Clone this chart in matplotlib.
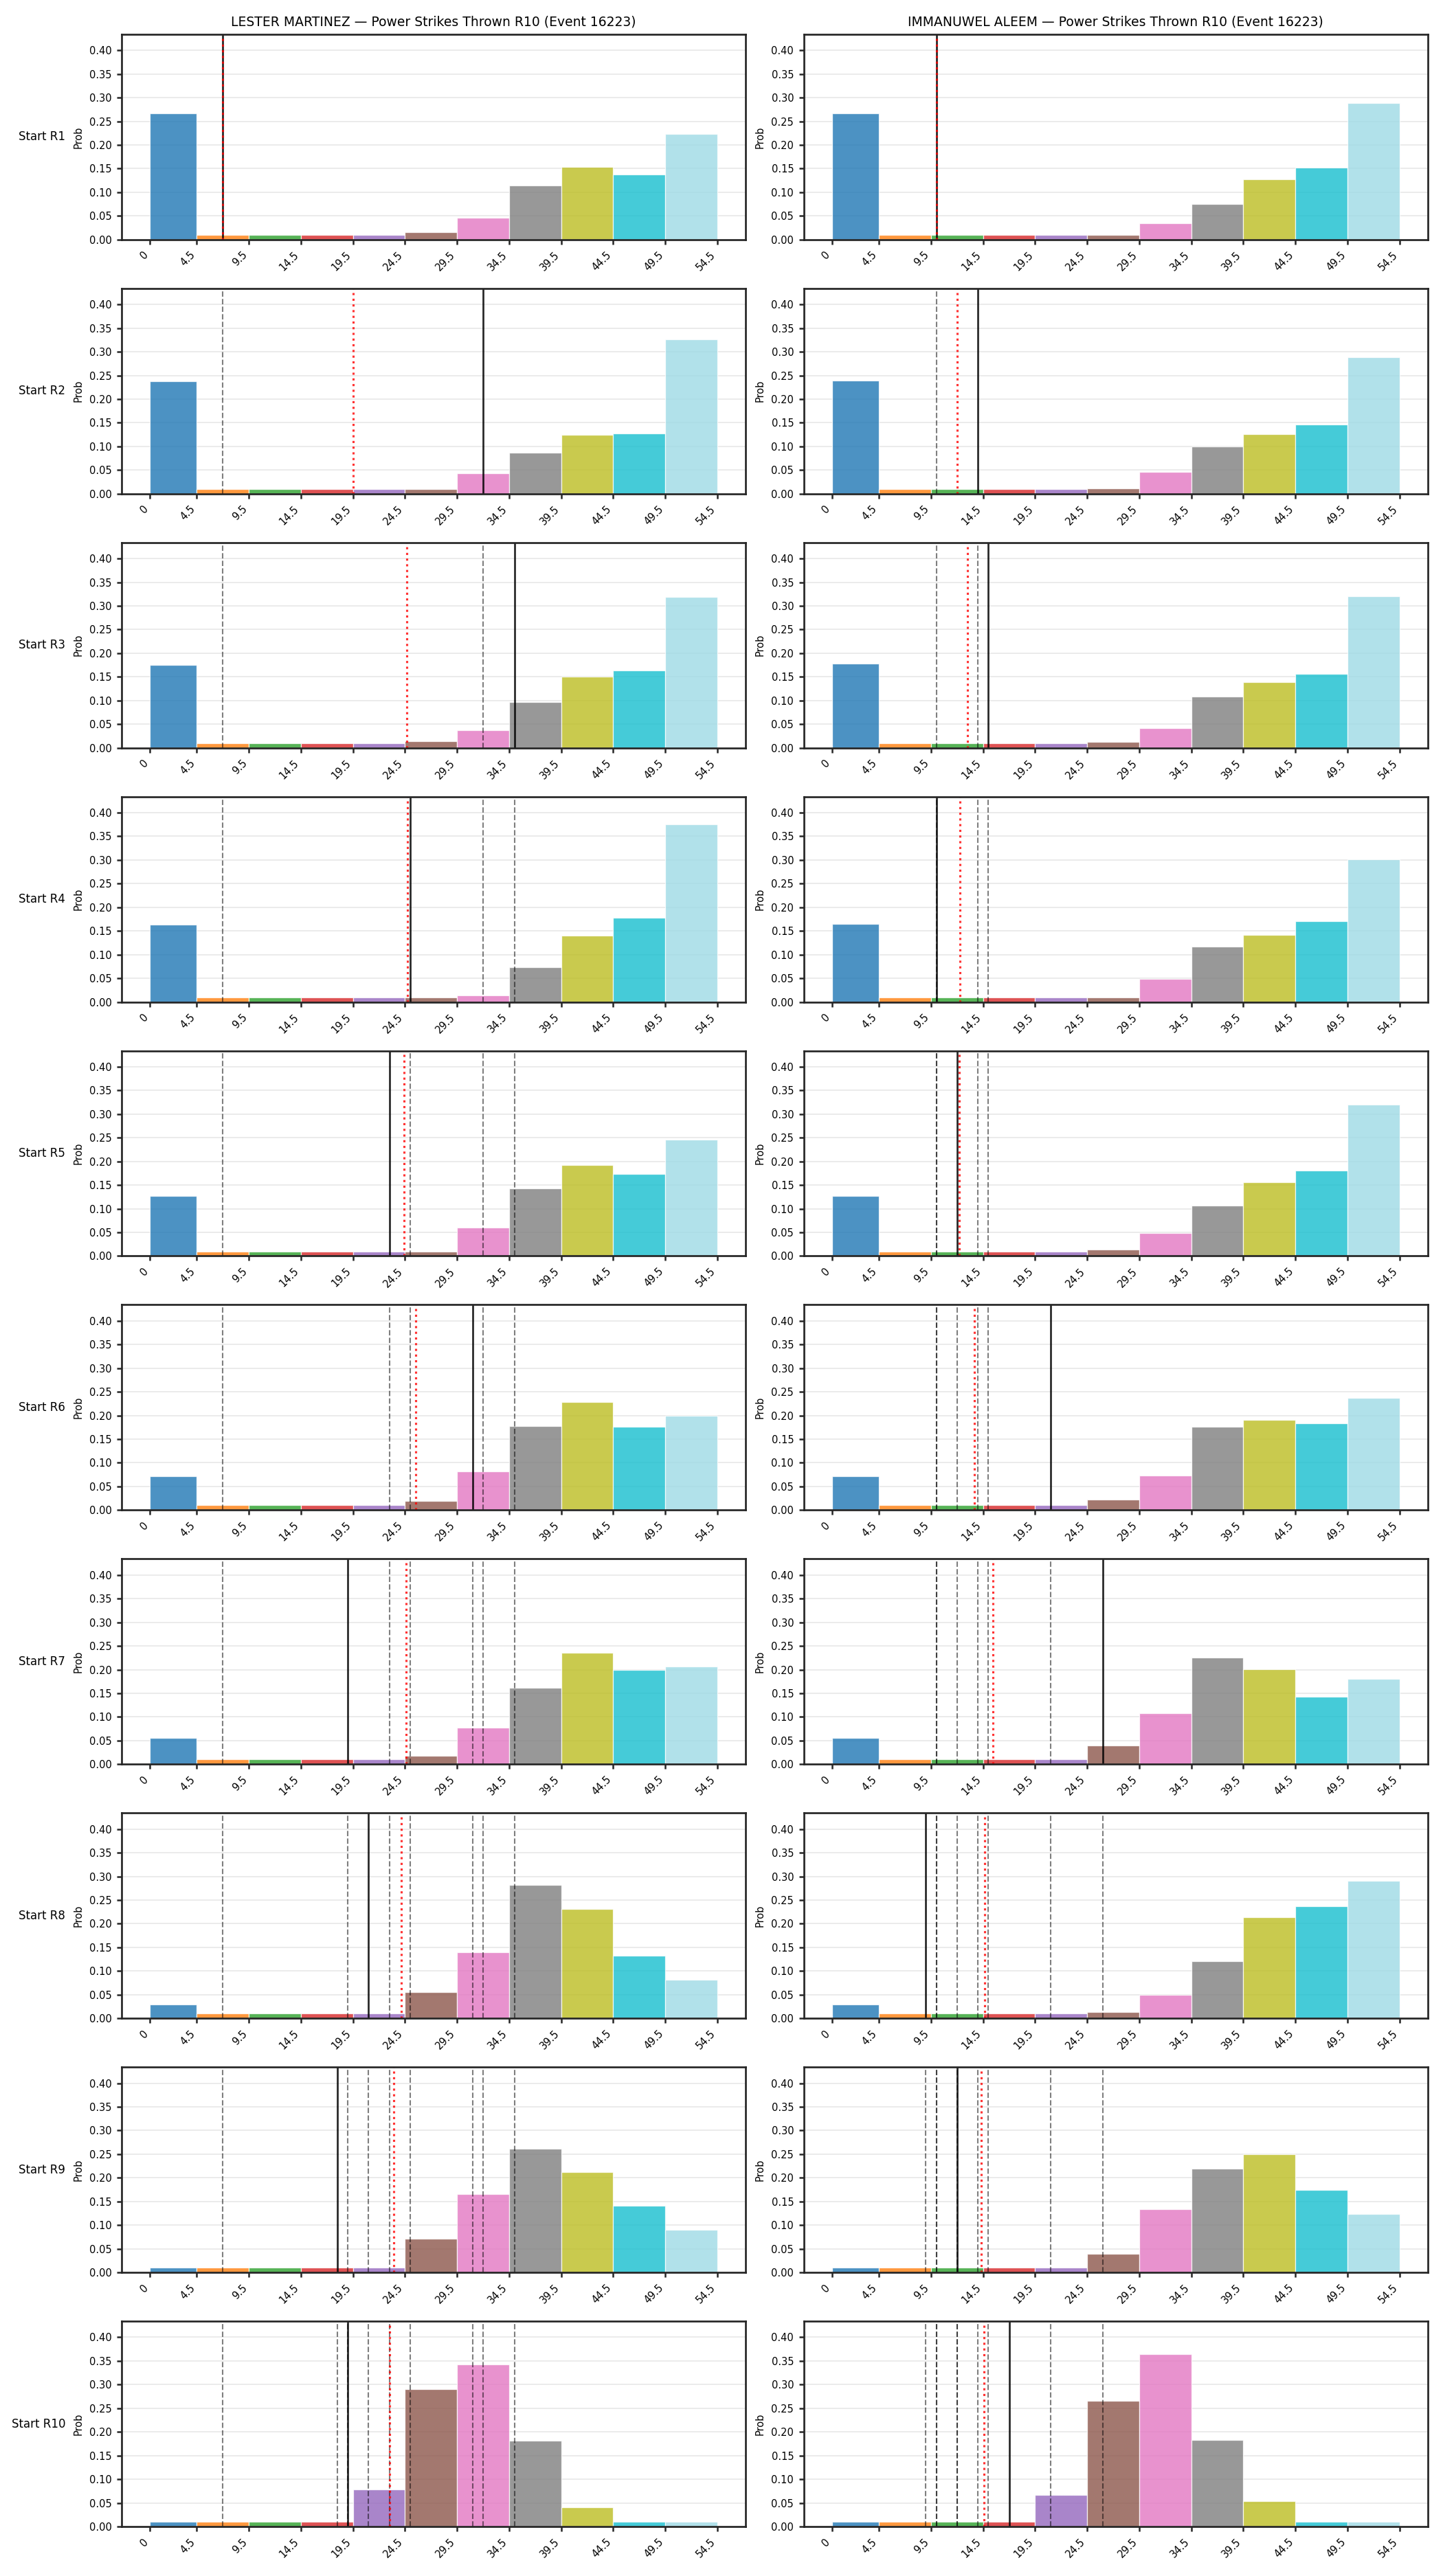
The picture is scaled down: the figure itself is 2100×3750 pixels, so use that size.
import numpy as np
import matplotlib
matplotlib.use("Agg")
import matplotlib.pyplot as plt

# bins of power strikes thrown in R10
edges = [0, 4.5, 9.5, 14.5, 19.5, 24.5, 29.5, 34.5, 39.5, 44.5, 49.5, 54.5]
tick_labels = ["0", "4.5", "9.5", "14.5", "19.5", "24.5", "29.5", "34.5", "39.5", "44.5", "49.5", "54.5"]
bin_colors = ["#1f77b4", "#ff7f0e", "#2ca02c", "#d62728", "#9467bd", "#8c564b",
              "#e377c2", "#7f7f7f", "#bcbd22", "#17becf", "#9edae5"]

fighters = ["LESTER MARTINEZ", "IMMANUWEL ALEEM"]
event_id = 16223

# observed power strikes per round (R1..R10)
left_rounds = [7, 32, 35, 25, 23, 31, 19, 21, 18, 19]
right_rounds = [10, 14, 15, 10, 12, 21, 26, 9, 12, 17]

# predicted distribution at start of each round
left_probs = [
    [0.267, 0.010, 0.010, 0.010, 0.010, 0.015, 0.046, 0.115, 0.153, 0.137, 0.223],
    [0.237, 0.010, 0.010, 0.010, 0.010, 0.010, 0.043, 0.087, 0.124, 0.128, 0.326],
    [0.175, 0.010, 0.010, 0.010, 0.010, 0.014, 0.037, 0.096, 0.150, 0.163, 0.319],
    [0.163, 0.010, 0.010, 0.010, 0.010, 0.010, 0.014, 0.073, 0.140, 0.178, 0.376],
    [0.127, 0.010, 0.010, 0.010, 0.010, 0.010, 0.060, 0.143, 0.193, 0.174, 0.246],
    [0.071, 0.010, 0.010, 0.010, 0.010, 0.020, 0.082, 0.178, 0.228, 0.176, 0.200],
    [0.056, 0.010, 0.010, 0.010, 0.010, 0.018, 0.078, 0.162, 0.235, 0.200, 0.206],
    [0.030, 0.010, 0.010, 0.010, 0.010, 0.056, 0.140, 0.282, 0.231, 0.133, 0.081],
    [0.010, 0.010, 0.010, 0.010, 0.011, 0.071, 0.166, 0.262, 0.212, 0.141, 0.090],
    [0.010, 0.010, 0.010, 0.010, 0.079, 0.291, 0.343, 0.181, 0.041, 0.010, 0.010],
]
right_probs = [
    [0.267, 0.010, 0.010, 0.010, 0.010, 0.010, 0.034, 0.075, 0.128, 0.152, 0.289],
    [0.239, 0.010, 0.010, 0.010, 0.010, 0.011, 0.046, 0.100, 0.126, 0.146, 0.289],
    [0.178, 0.010, 0.010, 0.010, 0.010, 0.013, 0.041, 0.108, 0.139, 0.156, 0.320],
    [0.165, 0.010, 0.010, 0.010, 0.010, 0.010, 0.049, 0.117, 0.141, 0.170, 0.302],
    [0.127, 0.010, 0.010, 0.010, 0.010, 0.014, 0.049, 0.106, 0.156, 0.180, 0.320],
    [0.071, 0.010, 0.010, 0.010, 0.010, 0.022, 0.073, 0.176, 0.191, 0.183, 0.237],
    [0.056, 0.010, 0.010, 0.010, 0.010, 0.039, 0.108, 0.226, 0.201, 0.143, 0.180],
    [0.029, 0.010, 0.010, 0.010, 0.010, 0.014, 0.049, 0.121, 0.213, 0.237, 0.291],
    [0.010, 0.010, 0.010, 0.010, 0.010, 0.040, 0.134, 0.220, 0.250, 0.174, 0.124],
    [0.010, 0.010, 0.010, 0.010, 0.067, 0.266, 0.364, 0.183, 0.054, 0.010, 0.010],
]

plt.rcParams["axes.linewidth"] = 1.3
plt.rcParams["axes.edgecolor"] = "#262626"
plt.rcParams["xtick.major.width"] = 1.2
plt.rcParams["ytick.major.width"] = 1.2
plt.rcParams["xtick.color"] = "#262626"
plt.rcParams["ytick.color"] = "#262626"


def draw_panel(ax, probs, rounds, r):
    lefts = edges[:-1]
    widths = np.diff(edges)
    ax.bar(lefts, probs, width=widths, align="edge", color=bin_colors,
           alpha=0.8, edgecolor="white", linewidth=0.6)
    # earlier rounds
    for v in rounds[:r - 1]:
        ax.axvline(v, color="k", linestyle="--", linewidth=1.0, alpha=0.5)
    # current round
    ax.axvline(rounds[r - 1], color="k", linestyle="-", linewidth=1.3, alpha=0.85)
    # running mean
    ax.axvline(np.mean(rounds[:r]), color="red", linestyle=":", linewidth=1.5, alpha=0.8)

    ax.set_xticks(edges)
    ax.set_xticklabels(tick_labels, rotation=45, ha="right", fontsize=7, color="k")
    ax.tick_params(axis="y", labelsize=7, labelcolor="k")
    ax.set_ylim(0, 0.434)
    ax.set_yticks(np.arange(0, 0.41, 0.05))
    ax.set_ylabel("Prob", fontsize=7)
    ax.grid(axis="y", alpha=0.3)
    ax.set_axisbelow(True)


n_rounds = len(left_rounds)
fig, axes = plt.subplots(n_rounds, 2, figsize=(14, 25), dpi=150)
fig.subplots_adjust(left=0.0843, right=0.9895, top=0.9867, bottom=0.0192,
                    hspace=0.2375, wspace=0.093)

for i in range(n_rounds):
    r = i + 1
    draw_panel(axes[i, 0], left_probs[i], left_rounds, r)
    draw_panel(axes[i, 1], right_probs[i], right_rounds, r)
    axes[i, 0].text(-0.09, 0.5, f"Start R{r}", transform=axes[i, 0].transAxes,
                    ha="right", va="center", fontsize=8)

for j, name in enumerate(fighters):
    axes[0, j].set_title(f"{name} — Power Strikes Thrown R10 (Event {event_id})", fontsize=9)

fig.savefig("out.png", dpi=150)
